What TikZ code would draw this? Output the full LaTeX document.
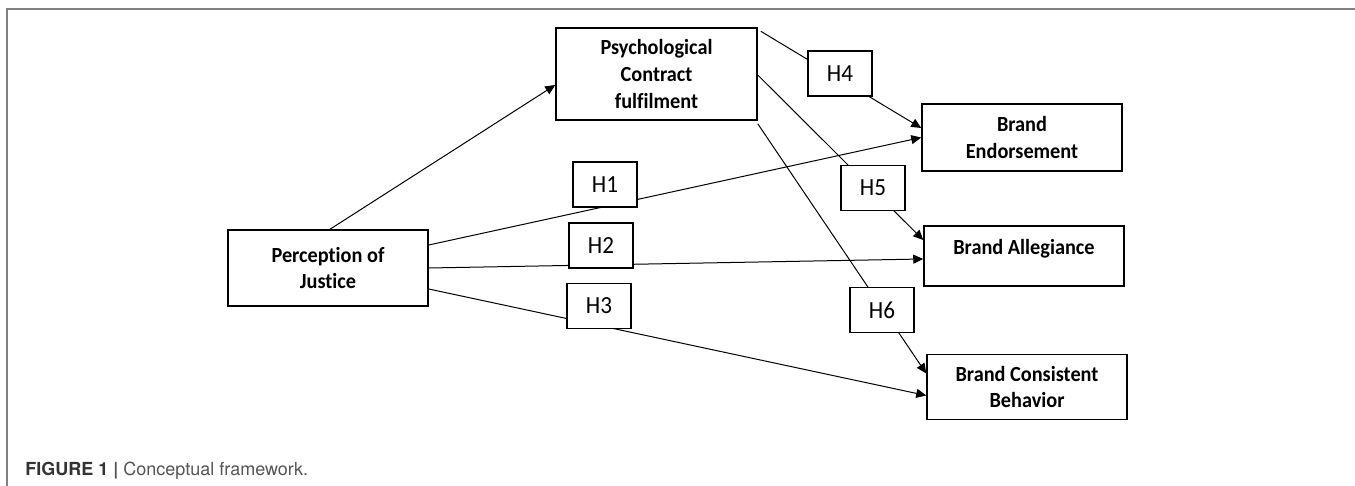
\documentclass[tikz,border=0pt]{standalone}
\usepackage{fontspec}
\setmainfont{Carlito}[Ligatures=NoCommon, FakeStretch=0.94]
\newfontfamily\capfont{TeX Gyre Heros}
\usetikzlibrary{arrows.meta}
\definecolor{capdark}{HTML}{333333}
\definecolor{caplight}{HTML}{555555}
\definecolor{framegray}{HTML}{808080}
\begin{document}
\begin{tikzpicture}[x=0.5pt,y=-0.5pt,
  box/.style={draw, line width=0.75pt, fill=white, font=\fontsize{10.8}{13.3}\selectfont\bfseries, align=center, inner sep=0pt},
  hbox/.style={draw, line width=0.75pt, fill=white, minimum width=32pt, minimum height=22.5pt, font=\fontsize{12.3}{14}\selectfont, inner sep=0pt},
  conn/.style={line width=0.5pt, -{Triangle[length=5pt,width=4.5pt]}}]
\useasboundingbox (0,0) rectangle (1355,486);
\fill[white] (0,0) rectangle (1355,486);
\draw[framegray, line width=0.6pt] (1355,9) -- (7,9) -- (7,486);

% main boxes
\node[box, minimum width=100.5pt, minimum height=46pt] (psy) at (656.5,74) {Psychological\\Contract\\fulfilment};
\node[box, minimum width=100pt, minimum height=38pt] (perc) at (328,268) {Perception of\\Justice};
\node[box, minimum width=100pt, minimum height=33.5pt] (endo) at (1022,137.5) {Brand\\Endorsement};
\node[box, minimum width=100pt, minimum height=30pt, label={[yshift=3.5pt, font=\fontsize{10.8}{13.3}\selectfont\bfseries]center:Brand Allegiance}] (alleg) at (1024,256) {};
\node[box, minimum width=100pt, minimum height=32.5pt] (cons) at (1027,387) {Brand Consistent\\Behavior};

% connectors
\draw[conn] ([xshift=1pt]perc.north) -- ([yshift=-5.5pt]psy.west);
\draw[conn] ([yshift=11.5pt]perc.east) -- (endo.west);
\draw[conn] (perc.east) -- ([yshift=-1.5pt]alleg.west);
\draw[conn] ([yshift=-10.5pt]perc.east) -- ([yshift=-4.25pt]cons.west);
\draw[conn] ([shift={(1.5pt,-2pt)}]psy.north east) -- ([yshift=4.75pt]endo.west);
\draw[conn] ([yshift=-0.5pt]psy.east) -- ([yshift=8pt]alleg.west);
\draw[conn] ([yshift=-1.5pt]psy.south east) -- ([yshift=6.75pt]cons.west);

% hypothesis labels
\node[hbox] (h1) at (605,184.5) {H1};
\node[hbox] (h2) at (601,245.5) {H2};
\node[hbox] (h3) at (599,306) {H3};
\node[hbox] (h4) at (840,73.5) {H4};
\node[hbox] (h5) at (873,188) {H5};
\node[hbox] (h6) at (882,310) {H6};

% caption
\node[anchor=base west, inner sep=0pt, font=\capfont\fontsize{9}{11}\selectfont] (cap) at (25,475)
  {\textcolor{capdark}{\bfseries FIGURE 1} \textcolor{caplight}{\textbf{|} Conceptual framework.}};
\end{tikzpicture}
\end{document}
